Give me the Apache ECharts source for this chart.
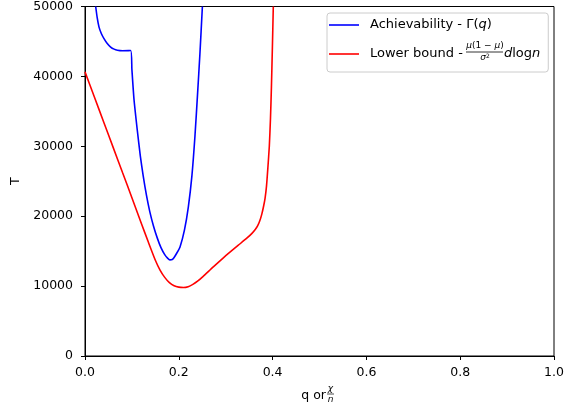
<!DOCTYPE html>
<html>
<head>
<meta charset="utf-8">
<script src="https://cdn.jsdelivr.net/npm/echarts@6/dist/echarts.min.js"></script>
<style>html,body{margin:0;padding:0;background:#fff;}#c{width:575px;height:410px;}</style>
</head>
<body>
<div id="c"></div>
<script>
// ---- data ----
var blueName = 'Achievability - Γ(q)';
var redName = 'Lower bound - μ(1−μ)/σ² dlogn';
var blueQ = [0.0228, 0.026, 0.0299, 0.035, 0.0405, 0.047, 0.0547, 0.062, 0.069, 0.080, 0.0974, 0.1000, 0.1045, 0.1115, 0.118, 0.124, 0.131, 0.138, 0.146, 0.154, 0.162, 0.170, 0.176, 0.181, 0.186, 0.190, 0.1955, 0.2026, 0.212, 0.2203, 0.228, 0.2345, 0.240, 0.245, 0.2503];
var blueT = [50000, 48400, 47050, 46100, 45400, 44750, 44200, 43900, 43750, 43680, 43700, 41000, 36700, 32300, 28600, 25800, 23000, 20700, 18600, 16900, 15500, 14500, 14000, 13750, 13800, 14100, 14700, 15600, 18000, 21300, 25800, 31500, 37500, 43200, 50000];
var redQ = [0, 0.02, 0.04, 0.06, 0.08, 0.10, 0.12, 0.135, 0.15, 0.16, 0.17, 0.18, 0.19, 0.20, 0.21, 0.22, 0.23, 0.24, 0.252, 0.2736, 0.295, 0.309, 0.327, 0.345, 0.356, 0.363, 0.368, 0.3725, 0.377, 0.381, 0.384, 0.387, 0.390, 0.393, 0.3955, 0.3975, 0.3995, 0.4015];
var redT = [40650, 37050, 33450, 29850, 26250, 22650, 19000, 16300, 13700, 12300, 11250, 10500, 10050, 9850, 9800, 9920, 10250, 10700, 11400, 12760, 14050, 14850, 15850, 16850, 17550, 18100, 18600, 19300, 20300, 21500, 22600, 24300, 27000, 30000, 34000, 38500, 44000, 50000];
var xTicks = [0, 0.2, 0.4, 0.6, 0.8, 1.0];
var yTicks = [0, 10000, 20000, 30000, 40000, 50000];

function pairs(xs, ys) { return xs.map(function (x, i) { return [x, ys[i]]; }); }

var F = 'DejaVu Sans';
var chart = echarts.init(document.getElementById('c'), null, {renderer: 'canvas'});
chart.setOption({
  animation: false,
  backgroundColor: '#ffffff',
  grid: {left: 85, right: 21, top: 6, bottom: 54, show: true, borderColor: '#000', borderWidth: 1, backgroundColor: 'transparent'},
  xAxis: {
    type: 'value', min: xTicks[0], max: xTicks[xTicks.length - 1], interval: 0.2,
    axisLine: {show: true, lineStyle: {color: '#000', width: 1}},
    axisTick: {show: true, length: 4, lineStyle: {color: '#000'}},
    splitLine: {show: false},
    axisLabel: {color: '#000', fontFamily: F, fontSize: 12.5, margin: 10, formatter: function (v) { return v.toFixed(1); }}
  },
  yAxis: {
    type: 'value', min: yTicks[0], max: yTicks[yTicks.length - 1], interval: 10000,
    name: 'T', nameLocation: 'middle', nameGap: 57,
    nameTextStyle: {color: '#000', fontFamily: F, fontSize: 12.5},
    axisLine: {show: true, lineStyle: {color: '#000', width: 1}},
    axisTick: {show: true, length: 4, lineStyle: {color: '#000'}},
    splitLine: {show: false},
    axisLabel: {color: '#000', fontFamily: F, fontSize: 12.5, margin: 12, formatter: function (v) { return String(v); }}
  },
  legend: {
    orient: 'vertical', left: 327, top: 13,
    padding: [4.5, 8, 10.5, 2],
    icon: 'rect', itemWidth: 30, itemHeight: 1.6, itemGap: 14,
    backgroundColor: '#fff', borderColor: '#cccccc', borderWidth: 1, borderRadius: 3,
    data: [blueName, redName],
    textStyle: {color: '#000', fontFamily: F, fontSize: 13, lineHeight: 15, padding: [0, 0, 0, 6],
      rich: {
        t: {fontFamily: F, fontSize: 13, lineHeight: 15, color: '#000'},
        i: {fontFamily: F, fontSize: 13, lineHeight: 15, fontStyle: 'italic', color: '#000'},
        sp: {width: 37, lineHeight: 15}
      }
    },
    formatter: function (name) {
      if (name === blueName) return '{t|Achievability - Γ(}{i|q}{t|)}';
      return '{t|Lower bound - }{sp|}{i|d}{t|log}{i|n}';
    }
  },
  graphic: [
    // legend fraction  mu(1-mu) / sigma^2
    {type: 'text', z: 200, x: 485, y: 46, style: {
      text: '{i|μ}{t|(1 − }{i|μ}{t|)}', align: 'center', verticalAlign: 'middle',
      rich: {t: {fontFamily: F, fontSize: 9, fill: '#000'}, i: {fontFamily: F, fontSize: 9, fontStyle: 'italic', fill: '#000'}}
    }},
    {type: 'line', z: 200, shape: {x1: 466, y1: 52, x2: 503, y2: 52}, style: {stroke: '#000', lineWidth: 0.8}},
    {type: 'text', z: 200, x: 485, y: 58, style: {
      text: '{i|σ}{s|2}', align: 'center', verticalAlign: 'middle',
      rich: {i: {fontFamily: F, fontSize: 9, fontStyle: 'italic', fill: '#000'}, s: {fontFamily: F, fontSize: 6, fill: '#000', verticalAlign: 'top'}}
    }},
    // x axis name: q or chi/n
    {type: 'text', x: 326, y: 396, style: {text: 'q or', align: 'right', verticalAlign: 'middle', font: '12.5px "DejaVu Sans"', fill: '#000'}},
    {type: 'text', x: 330.5, y: 389, style: {text: 'χ', align: 'center', verticalAlign: 'middle', font: 'italic 9px "DejaVu Sans"', fill: '#000'}},
    {type: 'line', shape: {x1: 327, y1: 394, x2: 334, y2: 394}, style: {stroke: '#000', lineWidth: 0.7}},
    {type: 'text', x: 330.5, y: 399.5, style: {text: 'n', align: 'center', verticalAlign: 'middle', font: 'italic 9px "DejaVu Sans"', fill: '#000'}}
  ],
  series: [
    {name: blueName, type: 'line', data: pairs(blueQ, blueT), showSymbol: false, symbol: 'none', smooth: 0.2, clip: true,
     lineStyle: {color: '#0000ff', width: 1.6}, itemStyle: {color: '#0000ff'}},
    {name: redName, type: 'line', data: pairs(redQ, redT), showSymbol: false, symbol: 'none', smooth: 0.2, clip: true,
     lineStyle: {color: '#ff0000', width: 1.6}, itemStyle: {color: '#ff0000'}}
  ]
});
</script>
</body>
</html>
